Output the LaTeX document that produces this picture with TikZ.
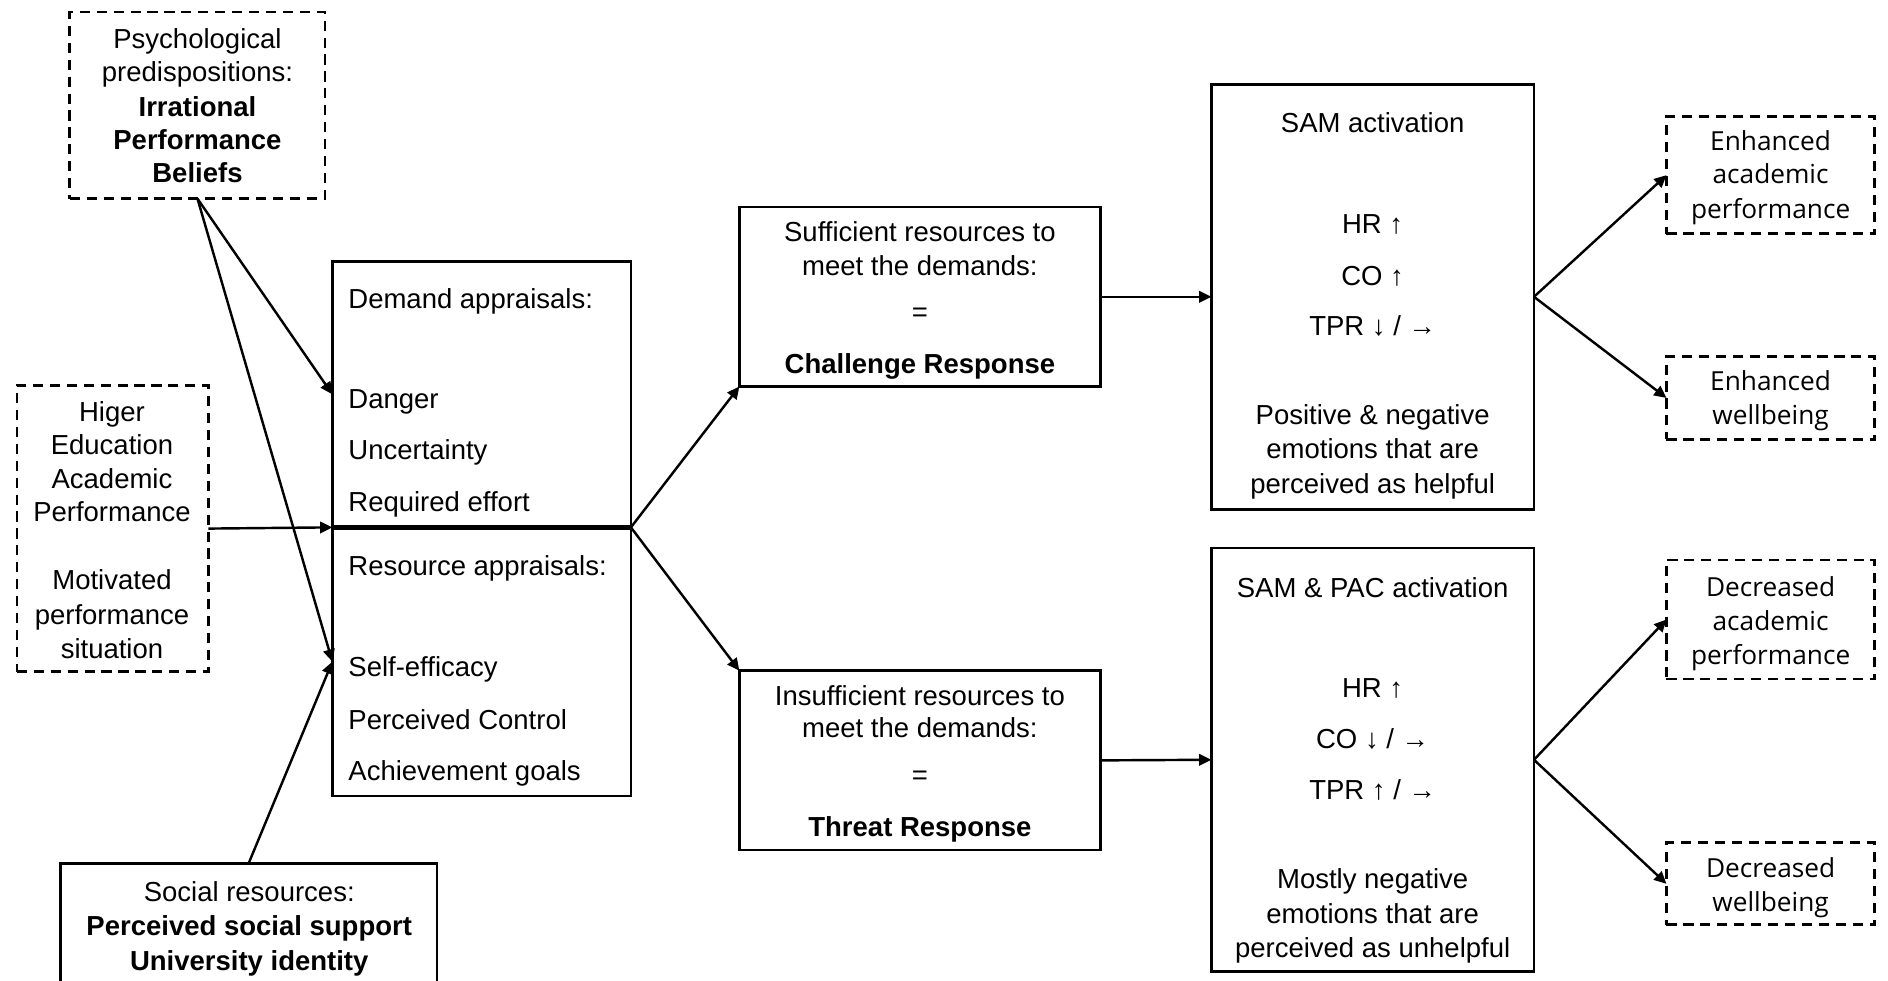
\documentclass[tikz,border=0pt]{standalone}
\usepackage{fontspec}
\newfontfamily\diagfont{Liberation Sans}
\newfontfamily\outfont{Open Sans}
\usetikzlibrary{arrows.meta}

\begin{document}
\begin{tikzpicture}[x=0.02cm, y=0.02cm,
  box/.style={draw, line width=1.3pt, inner sep=0pt, outer sep=0pt},
  dbox/.style={box, dash pattern=on 4.8pt off 3.2pt},
  sz/.style 2 args={minimum width=#1, minimum height=#2},
  ln/.style={inner sep=0pt, text height=11.1pt, text depth=1.0pt,
             font=\diagfont\fontsize{13}{16}\selectfont},
  bln/.style={ln, font=\diagfont\fontsize{13}{16}\selectfont\bfseries},
  lft/.style={ln, anchor=west},
  oln/.style={inner sep=0pt, text height=10.7pt, text depth=0.9pt,
              font=\outfont\fontsize{12.4}{16}\selectfont},
  arr/.style={line width=1.15pt, -{Triangle[length=5.8pt,width=5.4pt]}},
]
\clip (0,0) rectangle (1568,-814);

% ---------- antecedents ----------
\node[dbox, sz={4.24cm}{3.10cm}] (psych) at (164,-87.5) {};
\node[ln]  (psych-1) at (164,-31)  {Psychological};
\node[ln]  (psych-2) at (164,-59)  {predispositions:};
\node[bln] (psych-3) at (164,-88)  {Irrational};
\node[bln] (psych-4) at (164,-115) {Performance};
\node[bln] (psych-5) at (164,-143) {Beliefs};

\node[dbox, sz={3.18cm}{4.76cm}] (higer) at (93.5,-439) {};
\node[ln] (higer-1) at (93,-341) {Higer};
\node[ln] (higer-2) at (93,-369) {Education};
\node[ln] (higer-3) at (93,-397) {Academic};
\node[ln] (higer-4) at (93,-424) {Performance};
\node[ln] (higer-5) at (93,-481) {Motivated};
\node[ln] (higer-6) at (93,-510) {performance};
\node[ln] (higer-7) at (93,-538) {situation};

\node[box, sz={6.26cm}{2.26cm}] (social) at (206.5,-773.5) {};
\node[ln]  (social-1) at (207,-740) {Social resources:};
\node[bln] (social-2) at (207,-768) {Perceived social support};
\node[bln] (social-3) at (207,-797) {University identity};

% ---------- cognitive appraisals ----------
\node[box, sz={4.96cm}{4.42cm}] (demand)   at (400,-327.5) {};
\node[box, sz={4.96cm}{4.46cm}] (resource) at (400,-549.5) {};
\draw[line width=2.4pt] (demand.south west) -- (demand.south east);
\node[lft] (demand-1) at (289,-247) {Demand appraisals:};
\node[lft] (demand-2) at (289,-330) {Danger};
\node[lft] (demand-3) at (289,-373) {Uncertainty};
\node[lft] (demand-4) at (289,-416) {Required effort};
\node[lft] (resource-1) at (289,-469) {Resource appraisals:};
\node[lft] (resource-2) at (289,-553) {Self-efficacy};
\node[lft] (resource-3) at (289,-597) {Perceived Control};
\node[lft] (resource-4) at (289,-639) {Achievement goals};

% ---------- challenge / threat states ----------
\node[box, sz={6.0cm}{2.98cm}] (suff) at (764,-246.5) {};
\node[ln]  (suff-1) at (764,-192) {Sufficient resources to};
\node[ln]  (suff-2) at (764,-220) {meet the demands:};
\node[ln]  (suff-3) at (764,-258) {=};
\node[bln] (suff-4) at (764,-301) {Challenge Response};

\node[box, sz={6.0cm}{2.98cm}] (insuff) at (764,-631.5) {};
\node[ln]  (insuff-1) at (764,-577) {Insufficient resources to};
\node[ln]  (insuff-2) at (764,-604) {meet the demands:};
\node[ln]  (insuff-3) at (764,-643) {=};
\node[bln] (insuff-4) at (764,-686) {Threat Response};

% ---------- physiological responses ----------
\node[box, sz={5.36cm}{7.06cm}] (sam) at (1140,-246.5) {};
\node[ln] (sam-1) at (1140,-101) {SAM activation};
\node[ln] (sam-2) at (1140,-185) {HR ↑};
\node[ln] (sam-3) at (1140,-228) {CO ↑};
\node[ln] (sam-4) at (1140,-270) {TPR ↓ / →};
\node[ln] (sam-5) at (1140,-344) {Positive \& negative};
\node[ln] (sam-6) at (1140,-372) {emotions that are};
\node[ln] (sam-7) at (1140,-401) {perceived as helpful};

\node[box, sz={5.36cm}{7.04cm}] (sampac) at (1140,-631) {};
\node[ln] (sampac-1) at (1140,-487) {SAM \& PAC activation};
\node[ln] (sampac-2) at (1140,-570) {HR ↑};
\node[ln] (sampac-3) at (1140,-613) {CO ↓ / →};
\node[ln] (sampac-4) at (1140,-655) {TPR ↑ / →};
\node[ln] (sampac-5) at (1140,-729) {Mostly negative};
\node[ln] (sampac-6) at (1140,-758) {emotions that are};
\node[ln] (sampac-7) at (1140,-786) {perceived as unhelpful};

% ---------- outcomes ----------
\node[dbox, sz={3.46cm}{1.94cm}] (enacad) at (1470.5,-145.5) {};
\node[oln] (enacad-1) at (1470.5,-116) {Enhanced};
\node[oln] (enacad-2) at (1470.5,-144) {academic};
\node[oln] (enacad-3) at (1470.5,-173) {performance};

\node[dbox, sz={3.46cm}{1.38cm}] (enwell) at (1470.5,-330.5) {};
\node[oln] (enwell-1) at (1470.5,-316) {Enhanced};
\node[oln] (enwell-2) at (1470.5,-344) {wellbeing};

\node[dbox, sz={3.46cm}{1.98cm}] (deacad) at (1470.5,-514.5) {};
\node[oln] (deacad-1) at (1470.5,-487) {Decreased};
\node[oln] (deacad-2) at (1470.5,-515) {academic};
\node[oln] (deacad-3) at (1470.5,-543) {performance};

\node[dbox, sz={3.46cm}{1.36cm}] (dewell) at (1470.5,-734) {};
\node[oln] (dewell-1) at (1470.5,-720) {Decreased};
\node[oln] (dewell-2) at (1470.5,-748) {wellbeing};

% ---------- connectors ----------
\draw[arr] (psych.south)  -- (demand.west);
\draw[arr] (psych.south)  -- (resource.west);
\draw[arr] (social.north) -- (resource.west);
\draw[arr] (higer.east)   -- (demand.south west);

\draw[arr] (demand.south east) -- (suff.south west);
\draw[arr] (demand.south east) -- (insuff.north west);

\draw[arr] (suff.east)   -- (sam.west);
\draw[arr] (insuff.east) -- (sampac.west);

\draw[arr] (sam.east)    -- (enacad.west);
\draw[arr] (sam.east)    -- (enwell.west);
\draw[arr] (sampac.east) -- (deacad.west);
\draw[arr] (sampac.east) -- (dewell.west);
\end{tikzpicture}
\end{document}
